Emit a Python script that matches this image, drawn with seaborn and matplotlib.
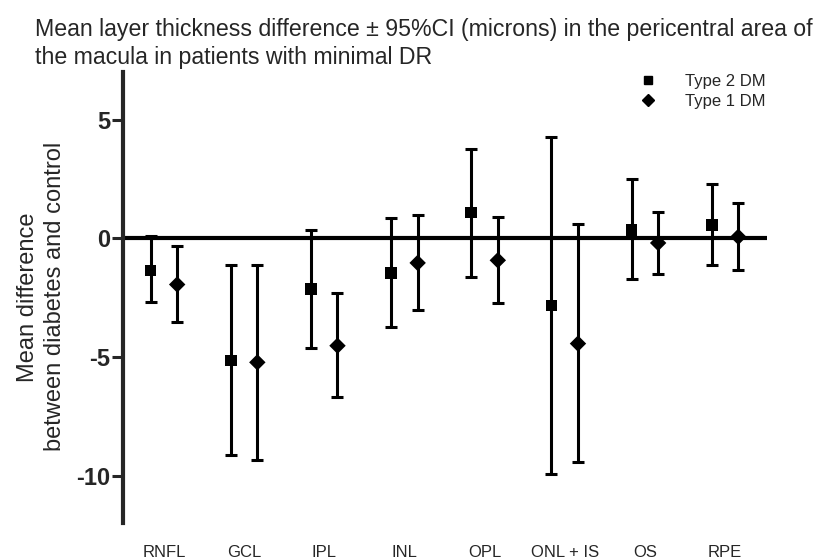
import numpy as np
import pandas as pd
import matplotlib
matplotlib.use("Agg")
import matplotlib.pyplot as plt
import seaborn as sns
from matplotlib.lines import Line2D

layers = ["RNFL", "GCL", "IPL", "INL", "OPL", "ONL + IS", "OS", "RPE"]
t2_mean = [-1.36, -5.15, -2.14, -1.47, 1.08, -2.84, 0.35, 0.57]
t2_low = [-2.70, -9.14, -4.63, -3.74, -1.62, -9.94, -1.73, -1.11]
t2_high = [0.08, -1.11, 0.35, 0.87, 3.78, 4.28, 2.50, 2.27]
t1_mean = [-1.95, -5.23, -4.53, -1.04, -0.93, -4.44, -0.20, 0.06]
t1_low = [-3.53, -9.34, -6.71, -3.01, -2.71, -9.42, -1.50, -1.34]
t1_high = [-0.34, -1.11, -2.32, 0.96, 0.88, 0.58, 1.11, 1.47]
groups = ["Type 2 DM", "Type 1 DM"]
yticks = [5, 0, -5, -10]

sns.set_style("ticks")
plt.rcParams["font.family"] = ["Liberation Sans", "DejaVu Sans"]

fig = plt.figure(figsize=(8.31, 5.59), dpi=100)
ax = fig.add_axes([0.148, 0.0644, 0.7746, 0.8066])

pos = np.arange(len(layers))
off = 0.166
specs = [
    (groups[0], t2_mean, t2_low, t2_high, -off),
    (groups[1], t1_mean, t1_low, t1_high, off),
]
rows = []
for name, m, lo, hi, dx in specs:
    m = np.array(m); lo = np.array(lo); hi = np.array(hi)
    ax.errorbar(pos + dx, m, yerr=[m - lo, hi - m], fmt="none",
                ecolor="black", elinewidth=2.2, capsize=4.3, capthick=2.2, zorder=3)
    for i, v in enumerate(m):
        rows.append({"x": pos[i] + dx, "y": v, "group": name})
df = pd.DataFrame(rows)
sns.scatterplot(data=df, x="x", y="y", style="group", markers={groups[0]: "s", groups[1]: "D"},
                color="black", s=70, edgecolor="black", linewidth=0, ax=ax, zorder=4, legend=False)

ax.axhline(0, color="black", lw=3, zorder=2)
ax.set_xlim(-0.51, 7.52)
ax.set_ylim(-12, 7)
ax.set_yticks(yticks)
ax.set_yticklabels([str(t) for t in yticks], fontsize=17, fontweight="bold")
ax.set_xticks(pos)
ax.set_xticklabels(layers, fontsize=12)
ax.tick_params(axis="x", length=0, pad=16)
ax.tick_params(axis="y", length=8, width=2.2, pad=1)
for s in ["top", "right", "bottom"]:
    ax.spines[s].set_visible(False)
ax.spines["left"].set_linewidth(3)
ax.set_xlabel("")
ax.set_ylabel("")

fig.text(0.0500, 0.469, "Mean difference\nbetween diabetes and control", rotation=90,
         ha="center", va="center", fontsize=17, multialignment="center", linespacing=1.3)

fig.text(0.042, 0.968, "Mean layer thickness difference \u00b1 95%CI (microns) in the pericentral area of\nthe macula in patients with minimal DR",
         ha="left", va="top", fontsize=16.7, linespacing=1.3)

handles = [Line2D([], [], marker="s", color="black", ls="none", ms=6),
           Line2D([], [], marker="D", color="black", ls="none", ms=6.5)]
ax.legend(handles, groups, loc="upper left", bbox_to_anchor=(0.755, 0.882),
          bbox_transform=fig.transFigure, frameon=False, fontsize=12,
          handletextpad=1.45, labelspacing=0.3, borderpad=0, handlelength=1.5)

fig.savefig("out.png", dpi=100)
